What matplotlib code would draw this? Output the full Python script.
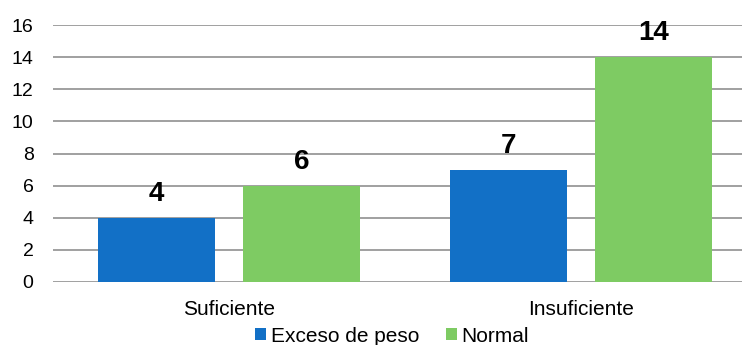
import matplotlib
matplotlib.use("Agg")
import matplotlib.pyplot as plt
import numpy as np

categories = ["Suficiente", "Insuficiente"]
series_names = ["Exceso de peso", "Normal"]
exceso = [4, 7]
normal = [6, 14]
y_ticks = [0, 2, 4, 6, 8, 10, 12, 14, 16]

colors = ["#1270C6", "#7ECB63"]

plt.rcParams["font.family"] = ["Liberation Sans", "DejaVu Sans"]

fig = plt.figure(figsize=(7.42, 3.45), dpi=100)
ax = fig.add_axes([53 / 742, 63 / 345, 704 / 742, 257 / 345])

x = np.arange(len(categories))
width = 0.332
offset = 0.207
for vals, name, col, off in zip([exceso, normal], series_names, colors, [-offset, offset]):
    bars = ax.bar(x + off, vals, width, color=col, label=name, zorder=3)
    for b, v in zip(bars, vals):
        ax.annotate(str(v), (b.get_x() + b.get_width() / 2, v), xytext=(0, 12),
                    textcoords="offset points", ha="center", va="baseline",
                    fontsize=20, fontweight="bold", color="black", zorder=4)

ax.set_xlim(-0.5, 1.5)
ax.set_ylim(0, 16)
ax.set_yticks(y_ticks)
ax.set_xticks(x)
ax.set_xticklabels(categories)
ax.tick_params(axis="both", length=0, colors="black")
ax.tick_params(axis="y", labelsize=14, pad=14)
ax.tick_params(axis="x", labelsize=15, pad=13)
ax.yaxis.grid(True, color="#868686", linewidth=1.1, zorder=0)
for s in ax.spines.values():
    s.set_visible(False)

fig.legend(loc="center", bbox_to_anchor=(392 / 742, 1 - 336 / 345), ncol=2,
           frameon=False, fontsize=15, handlelength=0.55, handleheight=0.55,
           handletextpad=0.2, columnspacing=1.3, borderpad=0)

fig.savefig("out.png", dpi=100)
